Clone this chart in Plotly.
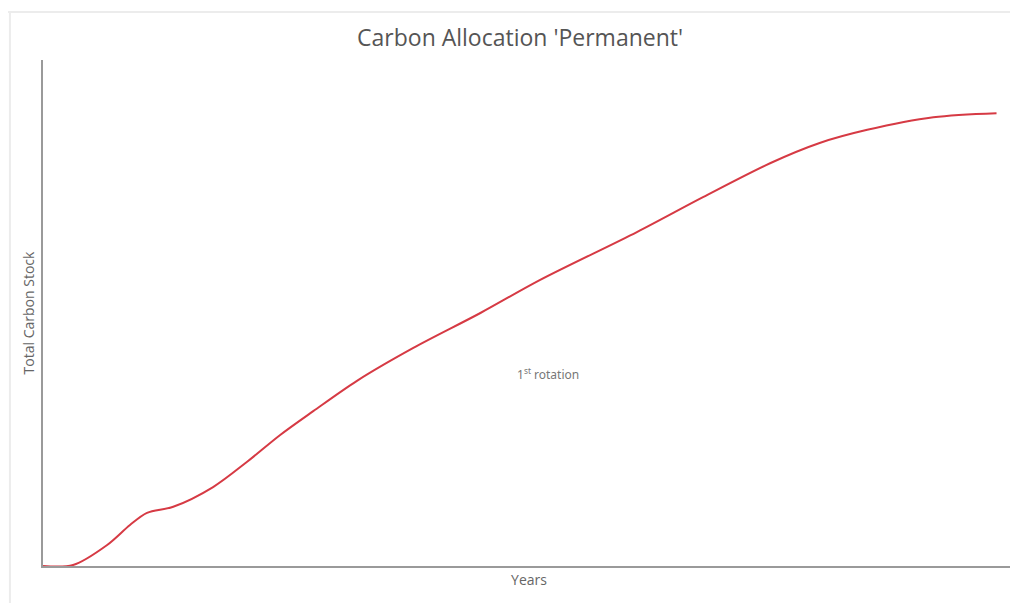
import plotly.graph_objects as go

# Data (x: years, arbitrary 0-100 scale; y: carbon stock, arbitrary 0-100)
years = [0.0, 3.1, 6.6, 8.95, 10.7, 13.4, 17.5, 21.0, 24.4, 27.8, 32.3, 38.1, 45.0,
         51.1, 61.1, 67.9, 74.8, 79.9, 84.8, 91.6, 98.1]
carbon = [0.0, 0.2, 4.15, 8.1, 10.5, 11.7, 15.6, 20.6, 25.9, 30.6, 36.6, 43.1, 50.0,
          56.5, 66.0, 72.9, 79.6, 83.6, 86.2, 88.7, 89.5]

annotation_text = "1<sup>st</sup> rotation"
title_text = "Carbon Allocation 'Permanent'"
x_title = "Years"
y_title = "Total Carbon Stock"

fig = go.Figure()
fig.add_trace(go.Scatter(
    x=years, y=carbon, mode="lines",
    line=dict(color="#d63a44", width=2, shape="spline", smoothing=0.9),
    hoverinfo="skip", showlegend=False,
))

fig.add_annotation(
    x=52.0, y=37.9, xref="x", yref="y", text=annotation_text, showarrow=False,
    font=dict(family="Noto Sans", size=12, color="#777777"),
)

# faint outer frame lines of the original image
fig.add_shape(type="line", xref="paper", yref="paper",
              x0=-0.036, x1=1.005, y0=1.095, y1=1.095,
              line=dict(color="#ececec", width=2))
fig.add_shape(type="line", xref="paper", yref="paper",
              x0=-0.034, x1=-0.034, y0=-0.073, y1=1.093,
              line=dict(color="#ececec", width=2))

fig.update_layout(
    width=1010, height=595,
    margin=dict(l=35, r=3, t=52, b=37),
    paper_bgcolor="white", plot_bgcolor="white",
    title=dict(text=title_text, x=0.507, xanchor="center", y=0.950, yanchor="middle",
               font=dict(family="Open Sans", size=23, color="#555555")),
    xaxis=dict(range=[0, 100], showgrid=False, zeroline=False, showticklabels=False,
               ticks="", showline=True, linecolor="#9a9a9a", linewidth=2,
               title=dict(text=x_title, standoff=8,
                          font=dict(family="Open Sans", size=14, color="#666666"))),
    yaxis=dict(range=[0, 100], showgrid=False, zeroline=False, showticklabels=False,
               ticks="", showline=True, linecolor="#9a9a9a", linewidth=2,
               title=dict(text=y_title, standoff=3,
                          font=dict(family="Open Sans", size=14, color="#666666"))),
)

fig.write_html("out.html")
